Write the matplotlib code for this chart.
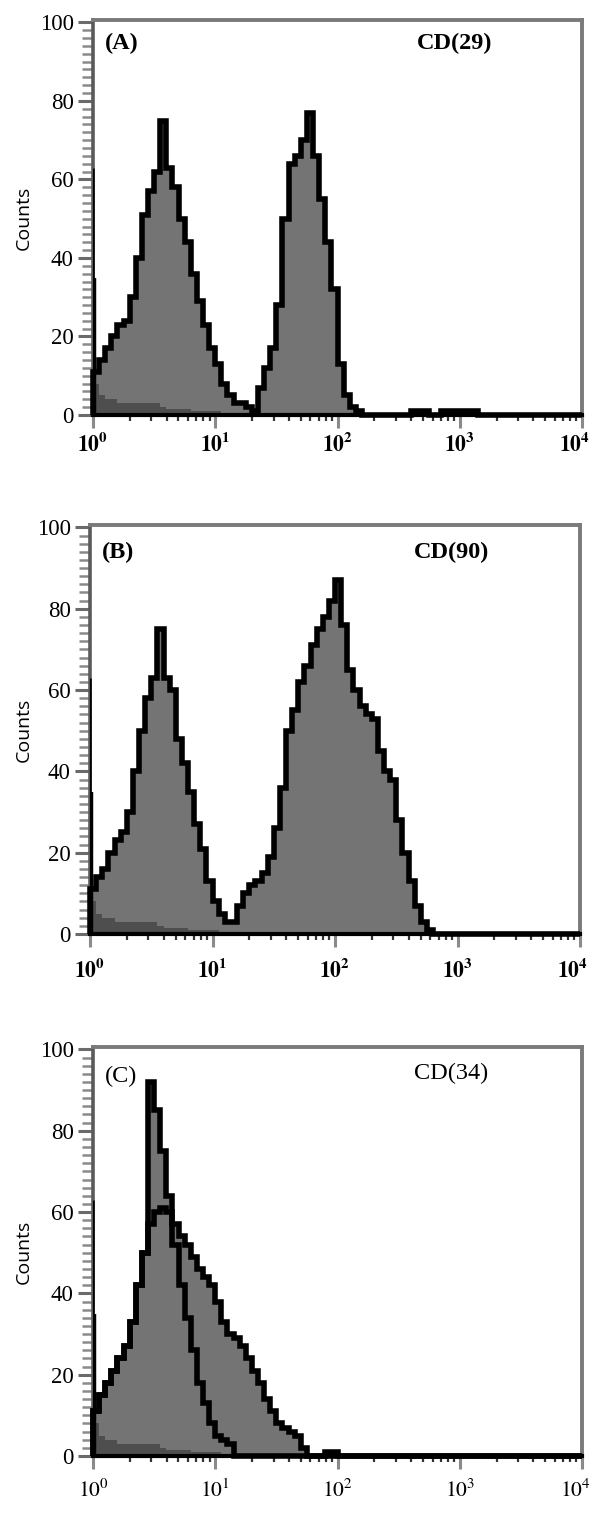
import numpy as np
import matplotlib.pyplot as plt
import matplotlib.transforms as mtransforms
from matplotlib.ticker import LogLocator, MultipleLocator, NullFormatter, FixedLocator, FixedFormatter

plt.rcParams['font.family'] = ['Liberation Serif', 'DejaVu Serif']
plt.rcParams['mathtext.fontset'] = 'stix'

# channels: 1/20 decade wide, from 10^0 to 10^4
bin_step = 0.05
n_bins = 80

# (A) CD29 - counts per channel
counts_a = [11, 14, 17, 20, 23, 24, 30, 40, 51, 57,
            62, 75, 63, 58, 50, 44, 36, 29, 23, 17,
            13, 8, 5, 3, 3, 2, 1, 7, 12, 17,
            28, 50, 64, 66, 70, 77, 66, 55, 44, 32,
            13, 5, 2, 1, 0, 0, 0, 0, 0, 0,
            0, 0, 1, 1, 1, 0, 0, 1, 1, 1,
            1, 1, 1, 0]

# (B) CD90
counts_b = [11, 14, 16, 20, 23, 25, 30, 40, 50, 58,
            63, 75, 63, 60, 48, 42, 35, 27, 21, 13,
            8, 5, 3, 3, 7, 10, 12, 13, 15, 19,
            26, 36, 50, 55, 62, 66, 71, 75, 78, 82,
            87, 76, 65, 60, 56, 54, 53, 45, 40, 38,
            28, 20, 13, 7, 3, 1]

# (C) CD34 - two overlaid histograms
counts_c_wide = [11, 15, 18, 21, 24, 27, 33, 42, 50, 57,
                 60, 61, 60, 57, 54, 52, 49, 46, 44, 42,
                 38, 33, 30, 29, 27, 24, 21, 18, 14, 11,
                 8, 7, 6, 5, 2, 0, 0, 0, 1, 1]
counts_c_narrow = [11, 15, 18, 21, 24, 27, 33, 42, 50, 92,
                   85, 75, 64, 52, 42, 34, 26, 18, 13, 8,
                   5, 4, 3]

# isotype control (dark grey, bottom)
control_counts = [8, 5, 4, 4, 3, 3, 3, 3, 3, 3,
                  3, 2, 1.5, 1.5, 1.5, 1.5, 1, 1, 1, 1,
                  1, 0.5, 0.5, 0.5]

# pile-up in the first channel (thin and thick part)
first_channel = [63, 35]

y_ticks = [0, 20, 40, 60, 80, 100]
x_decades = [0, 1, 2, 3, 4]

# panel layout in pixels: left, right, top, bottom
panels = [
    dict(px=(93, 582, 20, 415), series=[counts_a], tag='(A)', marker='CD(29)',
         bold=True, tag_y=0.94, mark_x=0.74, mark_y=0.94, xpad=3),
    dict(px=(90, 580, 525, 934), series=[counts_b], tag='(B)', marker='CD(90)',
         bold=True, tag_y=0.934, mark_x=0.738, mark_y=0.934, xpad=8),
    dict(px=(93, 582, 1047, 1456), series=[counts_c_wide, counts_c_narrow], tag='(C)',
         marker='CD(34)', bold=False, tag_y=0.927, mark_x=0.732, mark_y=0.936, xpad=8),
]

W, H = 594, 1515
fig = plt.figure(figsize=(W / 100, H / 100), dpi=100)
edges = 10 ** (np.arange(n_bins + 1) * bin_step)


def pad(vals):
    return np.array(list(vals) + [0] * (n_bins - len(vals)), dtype=float)


for p in panels:
    l, r, t, b = p['px']
    ax = fig.add_axes([l / W, 1 - b / H, (r - l) / W, (b - t) / H])

    for s in p['series']:
        ax.stairs(pad(s), edges, fill=True, color='#747474', zorder=1)
    ax.stairs(pad(control_counts), edges, fill=True, color='#4e4e4e', zorder=2)
    for s in p['series']:
        ax.stairs(pad(s), edges, color='black', lw=4.0, zorder=3, clip_on=False)
    ax.vlines(1.005, 0, first_channel[0], color='black', lw=1.8, zorder=4)
    ax.vlines(1.01, 0, first_channel[1], color='black', lw=3.2, zorder=4)

    ax.set_xscale('log')
    ax.set_xlim(1, 1e4)
    ax.set_ylim(0, 100.6)

    ax.yaxis.set_major_locator(FixedLocator(y_ticks))
    ax.yaxis.set_minor_locator(MultipleLocator(2))
    ax.tick_params(axis='y', which='major', length=11, width=2.2, color='#6a6a6a',
                   labelsize=16.5, pad=3)
    ax.tick_params(axis='y', which='minor', length=8, width=1.8, color='#8a8a8a')

    ax.xaxis.set_major_locator(FixedLocator([10.0 ** d for d in x_decades]))
    if p['bold']:
        xlabels = [r'$\mathbf{10^{%d}}$' % d for d in x_decades]
    else:
        xlabels = [r'$10^{%d}$' % d for d in x_decades]
    ax.xaxis.set_major_formatter(FixedFormatter(xlabels))
    ax.xaxis.set_minor_locator(LogLocator(base=10, subs=np.arange(2, 10)))
    ax.xaxis.set_minor_formatter(NullFormatter())
    ax.tick_params(axis='x', which='major', length=9, width=2.2, color='#8a8a8a',
                   labelsize=15.5, pad=p['xpad'])
    ax.tick_params(axis='x', which='minor', length=4.5, width=1.6, color='#333333')

    # keep the 10^4 label inside the picture
    last = ax.get_xticklabels()[-1]
    shift = mtransforms.ScaledTranslation(-7 / 100, 0, fig.dpi_scale_trans)
    last.set_transform(last.get_transform() + shift)

    for side in ('top', 'right'):
        ax.spines[side].set_color('#7a7a7a')
        ax.spines[side].set_linewidth(2.8)
    ax.spines['left'].set_color('#5a5a5a')
    ax.spines['left'].set_linewidth(2.6)
    ax.spines['bottom'].set_color('black')
    ax.spines['bottom'].set_linewidth(3)

    weight = 'bold' if p['bold'] else 'normal'
    ax.text(0.024, p['tag_y'], p['tag'], transform=ax.transAxes, fontsize=17.5,
            fontweight=weight, ha='left', va='center')
    ax.text(p['mark_x'], p['mark_y'], p['marker'], transform=ax.transAxes, fontsize=17.5,
            fontweight=weight, ha='center', va='center')

    fig.text(24 / W, 1 - (t + b) / 2 / H, 'Counts', family='Open Sans', fontsize=14,
             rotation=90, ha='center', va='center')

fig.savefig('out.png', dpi=100)
